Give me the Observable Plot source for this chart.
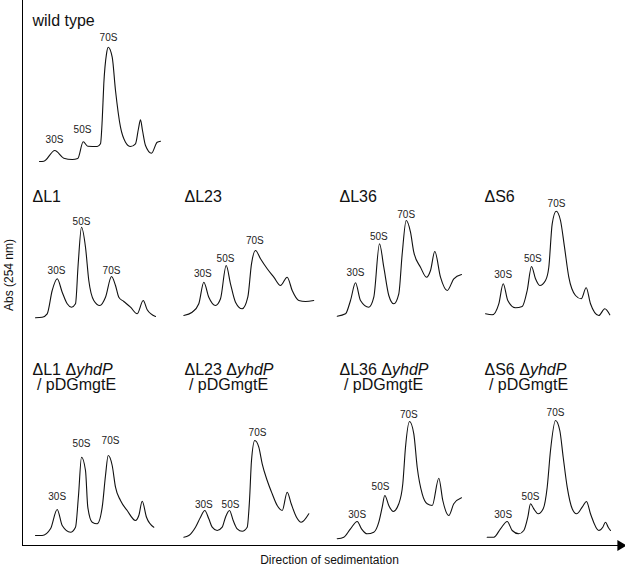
<!DOCTYPE html>
<html>
<head>
<meta charset="utf-8">
<script src="https://cdn.jsdelivr.net/npm/d3@7"></script>
<script src="https://cdn.jsdelivr.net/npm/@observablehq/plot@0.6"></script>
<style>
  body { margin: 0; background: #fff; }
  #chart { position: relative; width: 625px; height: 570px; overflow: hidden;
           font-family: "Liberation Sans", Arial, sans-serif; }
</style>
</head>
<body>
<div id="chart"></div>
<script>
// ---------------- DATA ----------------
const panelTitles = [
  "wild type",
  "ΔL1", "ΔL23", "ΔL36", "ΔS6",
  "ΔL1 ΔyhdP\n\u00a0/ pDGmgtE", "ΔL23 ΔyhdP\n\u00a0/ pDGmgtE",
  "ΔL36 ΔyhdP\n\u00a0/ pDGmgtE", "ΔS6 ΔyhdP\n\u00a0/ pDGmgtE"
];
const peakNames = ["30S", "50S", "70S"];
const xLabel = "Direction of sedimentation";
const yLabel = "Abs (254 nm)";

// wild type: position along gradient, absorbance (arbitrary units)
const wtPos = [14, 18.3, 29.3, 38.3, 46.7, 52.3, 57.7, 62.3, 71.7, 75, 76.7, 78.3, 81, 82.7, 86.7, 90, 95, 100, 105, 110, 113, 115, 117, 120, 126, 131.7, 135];
const wtAbs = [9, 9.3, 20, 12.3, 11, 12, 28.7, 24.3, 24, 26.7, 50, 86.7, 116.7, 123.3, 113.3, 80, 43.3, 28.3, 24, 26.7, 42, 50.7, 40, 25, 17.3, 28.3, 29.3];
const wtPeakPos = [29, 57, 83];
const wtPeakLbl = [31, 41, 133];

// ΔL1
const l1Pos = [10, 16.7, 21.7, 26.7, 31.7, 36.7, 41.7, 46, 50, 52.7, 56, 60, 63.3, 68.3, 74.3, 80, 86, 90, 93.3, 98.3, 105, 111.7, 117.7, 121.7, 130];
const l1Abs = [12.7, 13.3, 16.7, 40, 51.7, 38.3, 26.7, 23.3, 26.7, 66.7, 103.3, 83.3, 50, 30, 25, 33.3, 54, 45, 33.3, 29, 23.3, 16.7, 30, 20.7, 14];
const l1PeakPos = [31, 56, 86];
const l1PeakLbl = [60, 109, 60];

// ΔL23
const l23Pos = [6.3, 14.7, 21.3, 26.3, 31.3, 38, 43, 48.7, 53, 58, 64.7, 70.3, 74, 78, 83, 89.7, 96.3, 103, 109.7, 114.7, 121.3, 128, 136.3];
const l23Abs = [15, 18.3, 26.7, 48.3, 33.3, 25, 31.7, 65, 46.7, 28.3, 21.7, 33.3, 66.7, 80, 71.7, 61.7, 53.3, 45, 53.3, 40, 30, 29, 30];
const l23PeakPos = [25.3, 48, 77.3];
const l23PeakLbl = [56.7, 71.7, 90];

// ΔL36
const l36Pos = [4.7, 13, 18, 23, 28, 36.3, 41.3, 47, 51.3, 56.3, 61.3, 66.3, 69.7, 73.7, 78, 81.3, 88, 94, 98, 102.3, 108, 114.7, 121.3, 129];
const l36Abs = [14.3, 16.7, 30, 47.7, 30, 23.3, 33.3, 86.7, 63.3, 35, 26.7, 36.7, 76.7, 110, 98.3, 78.3, 63.3, 53.3, 60, 79, 53.3, 40, 51.7, 56];
const l36PeakPos = [23, 46.3, 73.7];
const l36PeakLbl = [57.7, 93.3, 116];

// ΔS6
const s6Pos = [8, 14.7, 21.3, 25.7, 30.3, 38, 44.7, 49.7, 54, 58, 62.3, 68, 71.3, 74.7, 78.7, 83, 87, 91.3, 98, 103.7, 108.7, 113, 121.3, 127.3, 132.3];
const s6Abs = [16.7, 15.7, 26.7, 46.7, 30, 22.7, 24, 40, 64, 51.7, 45, 50, 63.3, 106.7, 119.3, 110, 83.3, 53.3, 35, 31.7, 42.7, 26.7, 15, 21.7, 15.7];
const s6PeakPos = [25.7, 55.3, 79];
const s6PeakLbl = [56, 71.7, 126.7];

// ΔL1 ΔyhdP / pDGmgtE
const l1yPos = [10, 16.7, 25, 31.7, 36.7, 45, 50, 53, 56, 60, 62.3, 66.7, 71.7, 76.7, 80, 82.7, 86.7, 90, 95, 101.7, 110, 113.3, 116.7, 121, 128.3];
const l1yAbs = [10, 10, 16.7, 36, 20, 13.3, 18.3, 50, 88.3, 75, 38.3, 23.3, 21.7, 38.3, 70, 90, 80, 58.3, 45, 35, 25, 30, 44.3, 28.3, 18.3];
const l1yPeakPos = [31.7, 56, 85];
const l1yPeakLbl = [48.3, 101.7, 104.3];

// ΔL23 ΔyhdP / pDGmgtE
const l23yPos = [6.3, 11.3, 18, 23, 27.3, 31.3, 34.7, 39.7, 44.7, 48, 52, 55.7, 59.7, 64.7, 69.7, 72, 74, 77.3, 81.3, 84.7, 89.7, 94.7, 99.7, 104.7, 109.7, 113.7, 119, 123.7, 131.3];
const l23yAbs = [8.3, 10, 18.3, 28.3, 35, 26.7, 18.3, 15, 18.3, 28.3, 35, 25, 16.7, 14.3, 18.3, 45, 85, 105, 98.3, 81.7, 65, 51.7, 40, 35, 53.3, 41.7, 28.3, 23.3, 31.7];
const l23yPeakPos = [26.3, 53, 80];
const l23yPeakLbl = [41, 41, 112.3];

// ΔL36 ΔyhdP / pDGmgtE
const l36yPos = [4.7, 11.3, 18, 24.7, 29, 34.7, 41.3, 46.3, 49.7, 52.3, 56.3, 60.7, 66.3, 70.3, 73, 77, 81.3, 84.7, 89.7, 94.7, 99.7, 106.3, 110.3, 116.3, 121.3, 129];
const l36yAbs = [6.7, 8.3, 16.7, 24, 16.7, 11.7, 13.3, 23.3, 38.3, 50, 40, 34, 41.7, 61.7, 98.3, 124, 111.7, 78.3, 51.7, 41.7, 40, 67.3, 45, 30, 41.7, 47.7];
const l36yPeakPos = [24.7, 48, 76.3];
const l36yPeakLbl = [31, 58.3, 131];

// ΔS6 ΔyhdP / pDGmgtE
const s6yPos = [9.7, 16.3, 23, 29.7, 34.7, 41.3, 46.3, 50.3, 53, 56.3, 60.7, 65.7, 69.7, 73, 78, 82.3, 85.7, 89.7, 94.7, 99, 104.7, 109, 113, 121.3, 125.3, 128, 130.7, 133];
const s6yAbs = [8.3, 8.3, 16.7, 24, 15, 11.7, 15, 28.3, 41.7, 36.7, 31.7, 36.7, 58.3, 95, 125, 115, 88.3, 58.3, 36.7, 31.7, 38.3, 44, 31.7, 15, 18.3, 23.3, 18.3, 15];
const s6yPeakPos = [25.7, 53, 78];
const s6yPeakLbl = [31, 48.3, 132.3];

// ---------------- LAYOUT ----------------
const rowTop = [0, 170, 340];
const rowBottom = [170, 330, 545];
const titleDy = [21, 27, 37];
const colLeft = [25, 177, 332, 477];
const colWidth = 148;
const grid = [[0,0],[1,0],[1,1],[1,2],[1,3],[2,0],[2,1],[2,2],[2,3]];
const fontFamily = '"Liberation Sans", Arial, sans-serif';

const series = [
  [wtPos, wtAbs, wtPeakPos, wtPeakLbl],
  [l1Pos, l1Abs, l1PeakPos, l1PeakLbl],
  [l23Pos, l23Abs, l23PeakPos, l23PeakLbl],
  [l36Pos, l36Abs, l36PeakPos, l36PeakLbl],
  [s6Pos, s6Abs, s6PeakPos, s6PeakLbl],
  [l1yPos, l1yAbs, l1yPeakPos, l1yPeakLbl],
  [l23yPos, l23yAbs, l23yPeakPos, l23yPeakLbl],
  [l36yPos, l36yAbs, l36yPeakPos, l36yPeakLbl],
  [s6yPos, s6yAbs, s6yPeakPos, s6yPeakLbl]
];

const chart = document.getElementById("chart");

function place(svg, left, top) {
  svg.style.position = "absolute";
  svg.style.left = left + "px";
  svg.style.top = top + "px";
  svg.style.background = "transparent";
  svg.style.overflow = "visible";
  svg.style.maxWidth = "none";
  svg.style.fontFamily = fontFamily;
  chart.appendChild(svg);
}

// Outer axes (L-shaped with arrow)
const axes = Plot.plot({
  width: 625, height: 570,
  marginLeft: 22, marginRight: 5, marginTop: 0, marginBottom: 25,
  x: {domain: [0, 1], axis: null},
  y: {domain: [0, 1], axis: null},
  marks: [
    Plot.ruleX([0], {stroke: "#000", strokeWidth: 1}),
    Plot.ruleY([0], {stroke: "#000", strokeWidth: 1}),
    Plot.dot([{x: 1, y: 0}], {x: "x", y: "y", symbol: "triangle", r: 4, rotate: 90, fill: "#000", stroke: "none"}),
    Plot.text([xLabel], {frameAnchor: "bottom", textAnchor: "middle", lineAnchor: "middle",
      dy: 15, dx: 8, fontSize: 12, fill: "#111"}),
    Plot.text([yLabel], {frameAnchor: "left", textAnchor: "middle", lineAnchor: "middle",
      rotate: -90, dx: -13, dy: 2, fontSize: 12, fill: "#111"})
  ]
});
place(axes, 0, 0);

// Panels
series.forEach(([pos, abs, pkPos, pkLbl], i) => {
  const [row, col] = grid[i];
  const H = rowBottom[row] - rowTop[row];
  const profile = pos.map((p, j) => ({p, a: abs[j]}));
  const peaks = peakNames.map((name, j) => ({name, p: pkPos[j], a: pkLbl[j]}));
  const svg = Plot.plot({
    width: colWidth, height: H, margin: 0,
    x: {domain: [0, colWidth], axis: null},
    y: {domain: [0, H], axis: null},
    marks: [
      Plot.line(profile, {x: "p", y: "a", curve: "monotone-x", stroke: "#111", strokeWidth: 1.1}),
      Plot.text(peaks, {x: "p", y: "a", text: "name", fontSize: 10, fill: "#222"}),
      Plot.text([panelTitles[i]], {frameAnchor: "top-left", textAnchor: "start", lineAnchor: "middle",
        dx: 7, dy: titleDy[row], fontSize: 16, lineHeight: 0.97, fill: "#111"})
    ]
  });
  // italicize gene name
  d3.select(svg).selectAll("text, tspan").each(function() {
    if (this.childElementCount === 0 && this.textContent.includes("yhdP")) {
      const t = this.textContent;
      const k = t.indexOf("yhdP");
      this.textContent = t.slice(0, k);
      d3.select(this).append("tspan").attr("font-style", "italic").text("yhdP");
      if (k + 4 < t.length) this.appendChild(document.createTextNode(t.slice(k + 4)));
    }
  });
  place(svg, colLeft[col], rowTop[row]);
});
</script>
</body>
</html>
